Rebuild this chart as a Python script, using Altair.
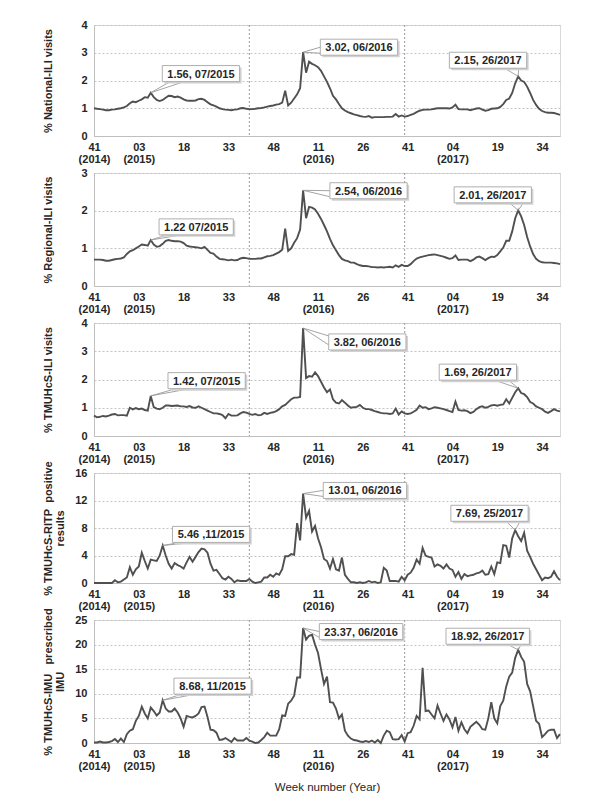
import altair as alt
import pandas as pd

FONT = "Liberation Sans"

# ---------------- data ----------------
weeks = list(range(157))  # 0 = week 41 (2014) ... 156 = week 40 (2017)

national_ili = [
    1.00, 0.98, 0.97, 0.95, 0.93, 0.93, 0.95, 0.96, 0.98, 1.00, 1.03,
    1.08, 1.18, 1.24, 1.22, 1.27, 1.32, 1.40, 1.38, 1.56, 1.40,
    1.30, 1.26, 1.30, 1.38, 1.45, 1.44, 1.40, 1.42, 1.38, 1.32,
    1.28, 1.27, 1.27, 1.28, 1.33, 1.34, 1.30, 1.22, 1.14, 1.10,
    1.06, 1.00, 0.97, 0.95, 0.94, 0.93, 0.95, 0.96, 1.00, 1.01,
    0.98, 0.97, 0.97, 0.98, 1.00, 1.01, 1.03, 1.06, 1.08, 1.10,
    1.13, 1.15, 1.20, 1.63, 1.10, 1.20, 1.35, 1.50, 1.72, 3.02,
    2.28, 2.68, 2.60, 2.55, 2.48, 2.35, 2.15, 1.95, 1.72, 1.45,
    1.32, 1.15, 1.00, 0.92, 0.86, 0.82, 0.78, 0.75, 0.72, 0.70,
    0.69, 0.72, 0.66, 0.68, 0.68, 0.68, 0.68, 0.69, 0.69, 0.70,
    0.79, 0.70, 0.74, 0.70, 0.72, 0.76, 0.80, 0.86, 0.91, 0.94,
    0.95, 0.95, 0.96, 0.98, 1.00, 1.00, 1.00, 1.00, 0.99, 1.03,
    1.13, 0.97, 0.96, 0.96, 0.96, 0.93, 0.96, 0.99, 1.00, 0.95,
    0.91, 0.93, 0.98, 0.99, 1.00, 1.05, 1.15, 1.30, 1.35, 1.55,
    1.90, 2.15, 2.00, 1.95, 1.78, 1.55, 1.30, 1.12, 0.98, 0.90,
    0.86, 0.84, 0.84, 0.83, 0.80, 0.76,
]

regional_ili = [
    0.70, 0.70, 0.70, 0.69, 0.67, 0.67, 0.69, 0.71, 0.72, 0.73, 0.76,
    0.85, 0.92, 0.95, 1.00, 1.05, 1.10, 1.09, 1.07, 1.22, 1.10,
    1.04, 1.06, 1.12, 1.20, 1.22, 1.20, 1.19, 1.19, 1.18, 1.14,
    1.07, 1.05, 1.04, 1.03, 1.02, 1.00, 1.04, 0.96, 0.88, 0.86,
    0.78, 0.72, 0.71, 0.70, 0.68, 0.70, 0.68, 0.69, 0.73, 0.75,
    0.74, 0.72, 0.72, 0.72, 0.73, 0.73, 0.76, 0.79, 0.80, 0.82,
    0.86, 0.90, 0.96, 1.52, 0.93, 1.00, 1.15, 1.27, 1.50, 2.54,
    1.80, 2.10, 2.08, 2.03, 1.92, 1.78, 1.62, 1.45, 1.25, 1.08,
    0.95, 0.82, 0.72, 0.68, 0.66, 0.62, 0.62, 0.58, 0.55, 0.53,
    0.53, 0.52, 0.50, 0.50, 0.49, 0.50, 0.49, 0.50, 0.51, 0.49,
    0.55, 0.51, 0.56, 0.53, 0.53, 0.58, 0.66, 0.73, 0.76, 0.78,
    0.80, 0.82, 0.83, 0.84, 0.82, 0.80, 0.78, 0.75, 0.72, 0.74,
    0.81, 0.69, 0.70, 0.70, 0.70, 0.66, 0.70, 0.76, 0.78, 0.74,
    0.69, 0.74, 0.78, 0.77, 0.82, 0.92, 1.02, 1.20, 1.20, 1.45,
    1.80, 2.01, 1.85, 1.62, 1.30, 1.05, 0.85, 0.72, 0.66, 0.63,
    0.62, 0.62, 0.62, 0.61, 0.60, 0.58,
]

tmuhcs_ili = [
    0.72, 0.66, 0.68, 0.71, 0.69, 0.72, 0.76, 0.78, 0.73, 0.74, 0.74,
    0.72, 1.00, 0.94, 0.99, 0.95, 0.97, 0.92, 0.90, 1.42, 1.02,
    0.97, 0.95, 1.00, 1.08, 1.08, 1.06, 1.07, 1.08, 1.05, 1.05,
    1.03, 1.06, 1.01, 1.00, 1.05, 1.00, 0.95, 0.90, 0.85, 0.80,
    0.80, 0.78, 0.74, 0.63, 0.78, 0.72, 0.72, 0.73, 0.80, 0.85,
    0.83, 0.78, 0.75, 0.78, 0.73, 0.75, 0.82, 0.78, 0.82, 0.84,
    0.88, 0.95, 1.05, 1.10, 1.20, 1.30, 1.36, 1.36, 1.38, 3.82,
    2.05, 2.12, 2.10, 2.25, 2.12, 1.92, 1.72, 1.55, 1.65, 1.30,
    1.18, 1.15, 1.27, 1.18, 1.08, 1.00, 1.02, 1.03, 1.10, 1.00,
    0.95, 0.95, 0.92, 0.88, 0.85, 0.82, 0.80, 0.80, 0.78, 0.80,
    0.97, 0.76, 0.87, 0.80, 0.78, 0.80, 0.86, 0.93, 1.08, 1.00,
    1.02, 0.95, 0.98, 1.02, 1.00, 0.98, 0.95, 0.92, 0.88, 0.85,
    1.22, 0.92, 0.90, 0.91, 0.88, 0.81, 0.85, 0.95, 1.02, 1.05,
    1.00, 1.03, 1.08, 1.10, 1.07, 1.10, 1.12, 1.30, 1.15, 1.35,
    1.55, 1.69, 1.52, 1.48, 1.38, 1.20, 1.15, 1.05, 1.00, 0.95,
    0.86, 0.82, 0.88, 0.95, 0.90, 0.87,
]

tmuhcs_ritp = [
    0.0, 0.0, 0.0, 0.0, 0.0, 0.0, 0.0, 0.4, 0.1, 0.2, 0.5,
    0.8, 2.3, 1.2, 2.0, 2.4, 4.4, 3.2, 2.1, 3.4, 3.3,
    3.2, 4.0, 5.46, 4.0, 2.8, 2.1, 2.9, 2.6, 2.4, 2.1,
    3.0, 3.8, 3.1, 3.8, 4.5, 5.0, 4.9, 4.4, 2.8, 1.8,
    1.9, 1.3, 0.7, 0.5, 0.9, 0.6, 0.1, 0.4, 0.3, 0.3,
    0.3, 0.6, 0.2, 0.0, 0.1, 0.2, 0.8, 0.8, 1.2, 0.9,
    1.4, 1.2, 2.0, 3.9, 3.9, 4.2, 4.1, 8.7, 6.2, 13.01,
    9.5, 10.5, 7.5, 8.3, 6.5, 5.2, 3.5, 3.2, 2.1, 3.5,
    2.0, 1.8, 3.7, 1.2, 0.6, 0.1, 0.1, 0.0, 0.1, 0.0,
    0.1, 0.3, 0.1, 0.2, 0.0, 0.1, 2.2, 1.8, 0.3, 0.3,
    0.3, 0.2, 0.9, 0.4, 1.2, 1.5, 2.2, 3.4, 2.8, 5.1,
    4.0, 3.8, 3.7, 2.4, 2.7, 2.5, 2.1, 2.7, 2.1, 1.9,
    0.9, 1.6, 0.6, 1.3, 1.0, 1.1, 1.2, 1.4, 1.5, 1.8,
    1.2, 1.3, 2.4, 1.3, 3.0, 2.9, 5.5, 5.4, 3.7, 6.5,
    7.69, 6.8, 6.1, 7.3, 4.7, 3.8, 2.8, 2.0, 1.2, 0.4,
    0.8, 0.7, 0.9, 1.7, 0.9, 0.4,
]

tmuhcs_imu = [
    0.1, 0.1, 0.3, 0.1, 0.1, 0.2, 0.4, 0.8, 0.2, 0.9, 0.2,
    1.8, 2.5, 2.8, 4.5, 5.5, 7.4, 6.0, 5.0, 7.2, 6.5,
    5.6, 6.2, 8.68, 7.0, 6.4, 6.4, 7.0, 6.2, 5.0, 3.3,
    5.5, 5.3, 5.2, 5.5, 6.0, 7.3, 7.4, 5.3, 2.7, 2.6,
    2.1, 0.6, 0.7, 1.0, 0.6, 0.2, 1.0, 0.5, 0.5, 0.5,
    1.0, 0.5, 0.3, 0.0, 0.1, 0.6, 1.2, 2.1, 1.5, 1.5,
    1.5, 2.8, 5.6, 5.5, 8.0, 8.6, 9.6, 13.3, 13.3, 23.37,
    21.0, 21.8, 22.0, 20.0, 18.3, 15.0, 12.0, 13.5, 8.3, 8.2,
    7.0, 5.0, 5.8, 2.5, 1.5, 0.9, 0.6, 0.5, 0.3, 0.2,
    0.4, 0.2, 0.5, 0.1, 0.6, 0.0, 1.5, 2.5, 2.2, 0.8,
    0.7, 0.8, 1.6, 0.3, 2.0, 2.2, 3.5, 5.5, 4.8, 15.3,
    6.5, 6.6, 5.8, 5.0, 7.6, 6.0, 4.5, 5.8, 4.8, 3.2,
    5.3, 2.5, 4.2, 2.8, 2.0, 3.3, 3.8, 4.3, 3.7, 2.8,
    2.7, 5.0, 8.3, 5.0, 4.0, 7.5, 8.6, 11.5, 13.5, 14.3,
    17.3, 18.92, 17.5, 16.5, 12.0, 10.5, 7.5, 4.5, 3.9, 1.2,
    1.8, 2.5, 2.7, 2.7, 1.0, 1.8,
]

series = [national_ili, regional_ili, tmuhcs_ili, tmuhcs_ritp, tmuhcs_imu]

tick_values = list(range(0, 151, 15))
tick_weeks = ["41", "03", "18", "33", "48", "11", "26", "41", "04", "19", "34"]
tick_years = ["(2014)", "(2015)", "", "", "", "(2016)", "", "", "(2017)", "", ""]
season_breaks = [52, 104]

NB = "\u00a0"
panel_titles = [
    "% National-ILI visits",
    "% Regional-ILI visits",
    "% TMUHcS-ILI visits",
    [f"% TMUHcS-RITP{NB}{NB}positive", "results"],
    [f"% TMUHcS-IMU{NB}{NB}{NB}prescribed", "IMU"],
]
y_max = [4, 3, 4, 16, 25]
y_step = [1, 1, 1, 4, 5]

ann_labels = [
    ["1.56, 07/2015", "3.02, 06/2016", "2.15, 26/2017"],
    ["1.22 07/2015", "2.54, 06/2016", "2.01, 26/2017"],
    ["1.42, 07/2015", "3.82, 06/2016", "1.69, 26/2017"],
    ["5.46 ,11/2015", "13.01, 06/2016", "7.69, 25/2017"],
    ["8.68, 11/2015", "23.37, 06/2016", "18.92, 26/2017"],
]
ann_peak_week = [[19, 70, 142], [19, 70, 142], [19, 70, 142], [23, 70, 141], [23, 70, 142]]
ann_peak_value = [[1.56, 3.02, 2.15], [1.22, 2.54, 2.01], [1.42, 3.82, 1.69],
                  [5.46, 13.01, 7.69], [8.68, 23.37, 18.92]]
# callout box centres (annotation placement)
ann_box_week = [[35.8, 88.7, 131.9], [34.2, 91.9, 133.5], [37.7, 91.5, 128.5],
                [39.2, 90.7, 132.4], [39.7, 89.4, 131.8]]
ann_box_value = [[2.25, 3.20, 2.73], [1.57, 2.53, 2.42], [1.96, 3.33, 2.26],
                 [7.07, 13.46, 10.14], [11.56, 22.65, 21.70]]
ann_attach = [["bl", "left", "br"], ["bl", "left", "br"], ["bl", "lt", "br"],
              ["bl", "left", "br"], ["bl", "left", "br"]]

# ---------------- layout / style ----------------
PLOT_W = 466
HEIGHTS = [111, 113, 113, 110, 123]
LINE_COLOR = "#505050"
TEXT_COLOR = "#262626"
BOX_H = 16

CHAR_W = {".": 0.278, ",": 0.278, " ": 0.278, "/": 0.278}


def text_width(s):
    return sum(CHAR_W.get(c, 0.556) for c in s) * 11 + 10


def attach_offsets(kind, w, h):
    if kind == "bl":
        return [(-w / 2 + 8, h / 2), (-w / 2 + 22, h / 2)]
    if kind == "br":
        return [(w / 2 - 22, h / 2), (w / 2 - 8, h / 2)]
    if kind == "lt":
        return [(-w / 2, -h / 2 + 2), (-w / 2, 3)]
    return [(-w / 2, 0), (-w / 2, h / 2 - 2)]


label_expr = "[" + ",".join(
    f"['{w}','{y}']" if y else f"'{w}'" for w, y in zip(tick_weeks, tick_years)
) + "][round(datum.value/15)]"


def make_panel(i):
    h = HEIGHTS[i]
    df = pd.DataFrame({"week": weeks, "value": series[i]})
    last = i == len(series) - 1
    x_axis = alt.Axis(
        values=tick_values, labelExpr=label_expr, grid=False, ticks=False,
        labelFlush=False, labelOverlap=False, labelPadding=5,
        labelFont=FONT, labelFontSize=11, labelFontWeight="bold",
        labelColor=TEXT_COLOR, labelLineHeight=12, domainColor="#bfbfbf",
        title="Week number (Year)" if last else "",
        titleFont=FONT, titleFontSize=11.5, titleFontWeight="normal",
        titleColor=TEXT_COLOR, titlePadding=10,
    )
    y_axis = alt.Axis(
        values=list(range(0, y_max[i] + 1, y_step[i])), grid=True,
        gridColor="#c4c4c4", gridDash=[2, 2], gridWidth=1, ticks=False,
        labelFlush=False, labelPadding=7, labelFont=FONT, labelFontSize=11,
        labelFontWeight="bold", labelColor=TEXT_COLOR, domainColor="#bfbfbf",
        title=panel_titles[i], titleFont=FONT, titleFontSize=11,
        titleFontWeight="bold", titleColor=TEXT_COLOR, titleX=-52, titleY=h / 2,
        titleBaseline="top", titleLineHeight=12,
    )
    xscale = alt.Scale(domain=[0, 156], nice=False, zero=False)
    yscale = alt.Scale(domain=[0, y_max[i]], nice=False)

    def X(f):
        return alt.X(f, scale=xscale, axis=x_axis)

    def Y(f):
        return alt.Y(f, scale=yscale, axis=y_axis)

    seasons = alt.Chart(pd.DataFrame({"week": season_breaks})).mark_rule(
        color="#9a9a9a", strokeDash=[2, 2], strokeWidth=1
    ).encode(x=X("week:Q"))

    line = alt.Chart(df).mark_line(color=LINE_COLOR, strokeWidth=1.9).encode(
        x=X("week:Q"), y=Y("value:Q"),
    )

    layers = [seasons, line]
    for j, lab in enumerate(ann_labels[i]):
        adf = pd.DataFrame({
            "px": [ann_peak_week[i][j]], "py": [ann_peak_value[i][j]],
            "bx": [ann_box_week[i][j]], "by": [ann_box_value[i][j]], "label": [lab],
        })
        w = text_width(lab)
        base = alt.Chart(adf)
        for dx, dy in attach_offsets(ann_attach[i][j], w, BOX_H):
            layers.append(base.mark_rule(
                color="#9a9a9a", strokeWidth=0.9, x2Offset=dx, y2Offset=dy
            ).encode(
                x=X("px:Q"), y=Y("py:Q"), x2=alt.X2("bx"), y2=alt.Y2("by"),
            ))
        pos = dict(x=X("bx:Q"), x2=alt.X2("bx"), y=Y("by:Q"), y2=alt.Y2("by"))
        layers.append(base.mark_rect(
            fill="#d2d2d2", xOffset=-w / 2 + 2, x2Offset=w / 2 + 2,
            yOffset=-BOX_H / 2 + 2, y2Offset=BOX_H / 2 + 2,
        ).encode(**pos))
        layers.append(base.mark_rect(
            fill="white", stroke="#a6a6a6", strokeWidth=0.9,
            xOffset=-w / 2, x2Offset=w / 2, yOffset=-BOX_H / 2, y2Offset=BOX_H / 2,
        ).encode(**pos))
        layers.append(base.mark_text(
            font=FONT, fontSize=11, fontWeight="bold", color=TEXT_COLOR,
            align="center", baseline="middle", dy=1,
        ).encode(x=X("bx:Q"), y=Y("by:Q"), text="label:N"))

    return alt.layer(*layers).properties(width=PLOT_W, height=h)


chart = alt.vconcat(
    *[make_panel(i) for i in range(len(series))], spacing=37, bounds="flush"
).properties(
    padding={"left": 33, "top": 10, "right": 10, "bottom": 5}
).configure_view(stroke="#d9d9d9", strokeWidth=1)

chart.save("out.html", embed_options={"renderer": "svg", "actions": False})
